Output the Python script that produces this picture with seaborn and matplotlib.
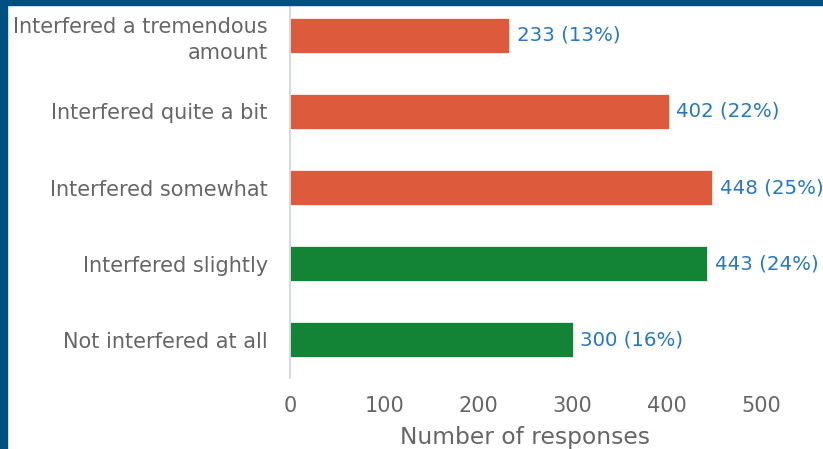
import matplotlib
matplotlib.use("Agg")
import matplotlib.pyplot as plt
import seaborn as sns
import pandas as pd
from matplotlib.patches import Rectangle

categories = ["Interfered a tremendous\namount", "Interfered quite a bit",
              "Interfered somewhat", "Interfered slightly", "Not interfered at all"]
counts = [233, 402, 448, 443, 300]
percents = [13, 22, 25, 24, 16]
groups = ["neg", "neg", "neg", "pos", "pos"]
xticks = [0, 100, 200, 300, 400, 500]

red = "#DE5A3C"
green = "#138436"
label_blue = "#2878BD"
text_gray = "#666666"

sns.set_theme(style="white")
plt.rcParams["font.family"] = ["DejaVu Sans"]

df = pd.DataFrame({"cat": categories, "count": counts, "grp": groups})

fig = plt.figure(figsize=(8.23, 4.49), dpi=100)
ax = fig.add_axes([290 / 823, 71 / 449, (761 - 290) / 823, (452 - 71) / 449])

sns.barplot(data=df, y="cat", x="count", hue="grp", palette={"neg": red, "pos": green},
            order=categories, orient="h", width=0.46, dodge=False, legend=False,
            saturation=1, ax=ax, edgecolor="white", linewidth=0.5)

for i, (c, p) in enumerate(zip(counts, percents)):
    ax.text(c + 8, i, f"{c} ({p}%)", va="center", ha="left", color=label_blue,
            fontsize=14.2, clip_on=False)

ax.set_xlim(0, 500)
ax.set_ylim(4.5, -0.5)
ax.set_xticks(xticks)
ax.set_xticklabels([str(t) for t in xticks])
ax.tick_params(axis="both", length=0, labelcolor=text_gray)
ax.tick_params(axis="x", pad=13, labelsize=15)
ax.tick_params(axis="y", pad=16, labelsize=15)
ax.set_ylabel("")
ax.set_xlabel("Number of responses", fontsize=16.8, color=text_gray, labelpad=7)
for lbl in ax.get_yticklabels():
    lbl.set_horizontalalignment("right")
    lbl.set_multialignment("right")
    lbl.set_linespacing(1.35)
for s in ["top", "right", "bottom"]:
    ax.spines[s].set_visible(False)
ax.spines["left"].set_color("#C8D4E4")
ax.spines["left"].set_linewidth(1.2)
ax.grid(False)

border = "#00507F"
fig.patches.append(Rectangle((0, 0), 7 / 823, 1, transform=fig.transFigure, color=border, zorder=10))
fig.patches.append(Rectangle((0, 1 - 5 / 449), 1, 5 / 449, transform=fig.transFigure, color=border, zorder=10))

fig.savefig("out.png", dpi=100, facecolor="white")
